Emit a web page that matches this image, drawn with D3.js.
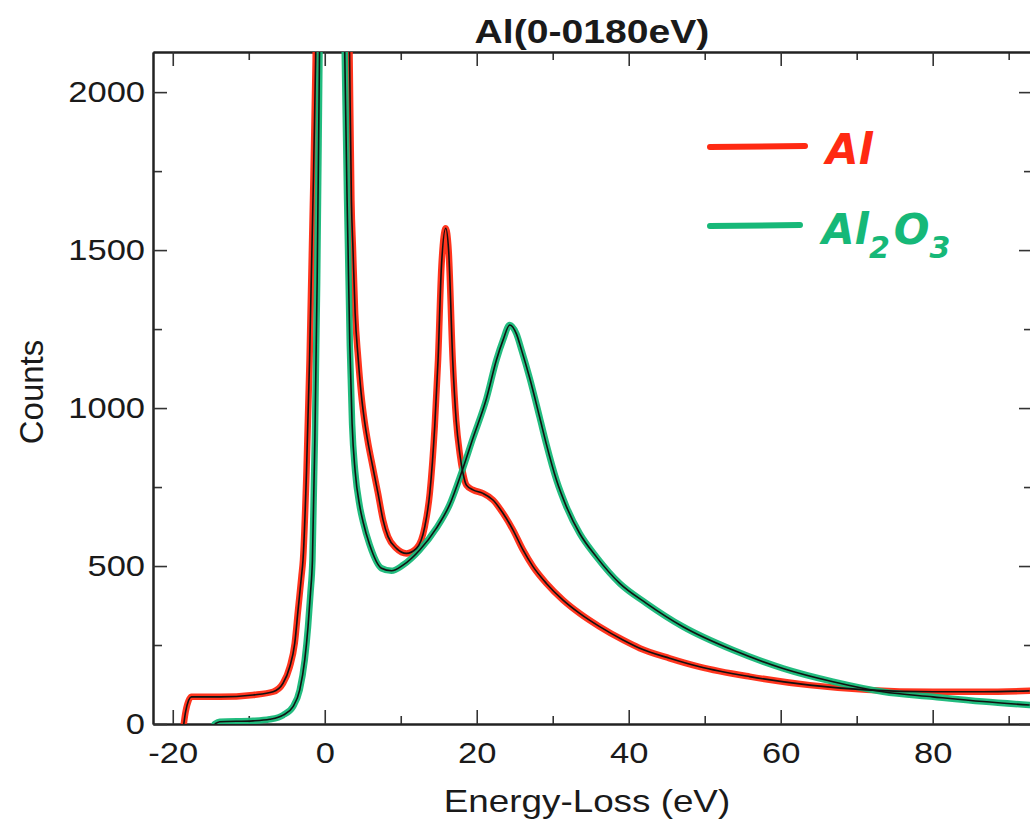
<!DOCTYPE html>
<html>
<head>
<meta charset="utf-8">
<script src="https://cdn.jsdelivr.net/npm/d3@7"></script>
<style>
  html, body { margin: 0; padding: 0; background: #fff; }
  svg { display: block; }
  text { font-family: "Liberation Sans", Arial, Helvetica, sans-serif; fill: #1a1a1a; }
</style>
</head>
<body>
<svg id="chart" width="1030" height="826"></svg>
<script>
// Low-loss EELS spectra (energy loss in eV, counts)
const energyAl = [-18.55, -18.3, -17.54, -13.8, -9.43, -6.8, -5.49, -4.6, -3.95, -3.51, -3.07, -2.86,
  -2.4, -2.0, -1.6, -1.2, -0.8, 0.2, 2.7, 3.25, 3.51, 3.72, 4.0, 4.39, 4.8, 5.26, 5.7, 6.14, 7.01, 7.67, 8.33,
  9.43, 10.75, 12.07, 13.16, 13.82, 14.47, 14.91, 15.36, 15.92, 16.3, 16.84, 17.3, 17.76, 18.2, 18.64,
  19.51, 20.83, 22.14, 23.46, 24.78, 26.09, 27.41, 29.17, 31.36, 33.55, 36.18, 39.25, 41.45, 45.39,
  49.34, 55.92, 63.82, 71.28, 80.04, 86.62, 92.76];
const countsAl = [0, 40, 86, 86, 92, 102, 129, 181, 255, 361, 466, 519,
  800, 1150, 1600, 2100, 3000, 5000, 3000, 2150, 1658, 1500, 1300, 1160, 1045, 955, 890, 835, 730, 646, 593,
  556, 540, 556, 624, 730, 941, 1152, 1450, 1569, 1500, 1152, 960, 857, 793, 756,
  741, 730, 709, 667, 614, 551, 498, 445, 392, 350, 308, 266, 240, 208,
  181, 150, 123, 108, 102, 102, 105];

const energyAl2O3 = [-14.47, -13.82, -9.43, -7.24, -5.49, -4.17, -3.29, -2.63, -2.2, -1.88, -1.62,
  -1.3, -1.0, -0.7, -0.3, 0.6, 2.3, 2.63, 3.07, 3.3, 3.6, 4.0, 4.6, 5.04, 5.9, 7.46, 8.78, 10.3, 12.5,
  14.7, 16.45, 17.99, 19.51, 21.28, 22.59, 23.46, 24.34, 25.22, 25.88, 26.97, 28.29, 29.17, 30.49,
  31.8, 33.55, 35.75, 38.82, 42.33, 47.14, 53.72, 60.3, 66.88, 73.46, 80.04, 86.62, 92.76];
const countsAl2O3 = [0, 7, 10, 15, 28, 55, 108, 203, 308, 414, 519,
  900, 1400, 2100, 3000, 5000, 3000, 2127, 1500, 1200, 950, 800, 690, 640, 568, 493, 485, 503, 551,
  620, 695, 795, 905, 1030, 1152, 1215, 1263, 1235, 1185, 1095, 970, 885, 772,
  688, 603, 529, 445, 382, 308, 234, 176, 134, 102, 86, 71, 60];

const xMajorTicks = [-20, 0, 20, 40, 60, 80];
const xMinorTicks = [-10, 10, 30, 50, 70, 90];
const yMajorTicks = [0, 500, 1000, 1500, 2000];
const yMinorTicks = [250, 750, 1250, 1750];

const seriesNames = ["Al", "Al2O3"];
const seriesColors = ["#ff2a12", "#16b878"];

const svg = d3.select("#chart");
const plotLeft = 153, plotRight = 1033, plotTop = 52, plotBottom = 724;

const x = d3.scaleLinear().domain([-22.6, 93.2]).range([plotLeft, plotRight]);
const y = d3.scaleLinear().domain([0, 2127]).range([plotBottom, plotTop]);

svg.append("defs").append("clipPath").attr("id", "plotArea")
  .append("rect").attr("x", plotLeft).attr("y", plotTop)
  .attr("width", plotRight - plotLeft).attr("height", plotBottom - plotTop);

// Frame axes with inward ticks
function styleAxis(g) {
  g.selectAll("path.domain").attr("stroke", "#222").attr("stroke-width", 2);
  g.selectAll(".tick line").attr("stroke", "#333").attr("stroke-width", 1.6);
}
const plainNumber = d => String(d);

svg.append("g").attr("transform", `translate(0,${plotBottom})`)
  .call(d3.axisBottom(x).tickValues(xMinorTicks).tickSize(-8).tickSizeOuter(0).tickFormat(""))
  .call(styleAxis);
const xAxis = svg.append("g").attr("transform", `translate(0,${plotBottom})`)
  .call(d3.axisBottom(x).tickValues(xMajorTicks).tickSize(-14).tickSizeOuter(0).tickPadding(18)
    .tickFormat(plainNumber))
  .call(styleAxis);
xAxis.selectAll("text").attr("font-size", 30).style("font-family", "Liberation Sans, Arial, sans-serif").attr("fill", "#1a1a1a");

svg.append("g").attr("transform", `translate(0,${plotTop})`)
  .call(d3.axisTop(x).tickValues(xMinorTicks).tickSize(-8).tickSizeOuter(0).tickFormat(""))
  .call(styleAxis);
svg.append("g").attr("transform", `translate(0,${plotTop})`)
  .call(d3.axisTop(x).tickValues(xMajorTicks).tickSize(-14).tickSizeOuter(0).tickFormat(""))
  .call(styleAxis);

svg.append("g").attr("transform", `translate(${plotLeft},0)`)
  .call(d3.axisLeft(y).tickValues(yMinorTicks).tickSize(-9).tickSizeOuter(0).tickFormat(""))
  .call(styleAxis);
const yAxis = svg.append("g").attr("transform", `translate(${plotLeft},0)`)
  .call(d3.axisLeft(y).tickValues(yMajorTicks).tickSize(-14).tickSizeOuter(0).tickPadding(8)
    .tickFormat(plainNumber))
  .call(styleAxis);
yAxis.selectAll("text").attr("font-size", 30).style("font-family", "Liberation Sans, Arial, sans-serif").attr("fill", "#1a1a1a");

svg.append("g").attr("transform", `translate(${plotRight},0)`)
  .call(d3.axisRight(y).tickValues(yMinorTicks).tickSize(-9).tickSizeOuter(0).tickFormat(""))
  .call(styleAxis);
svg.append("g").attr("transform", `translate(${plotRight},0)`)
  .call(d3.axisRight(y).tickValues(yMajorTicks).tickSize(-14).tickSizeOuter(0).tickFormat(""))
  .call(styleAxis);

// Spectra: coloured trace with the thin black data line on top
const line = d3.line().x(d => x(d[0])).y(d => y(d[1])).curve(d3.curveMonotoneX);
const series = [
  d3.zip(energyAl, countsAl),
  d3.zip(energyAl2O3, countsAl2O3)
];
const plot = svg.append("g").attr("clip-path", "url(#plotArea)");
series.forEach((pts, i) => {
  plot.append("path").datum(pts).attr("d", line)
    .attr("fill", "none").attr("stroke", seriesColors[i]).attr("stroke-width", 6.5)
    .attr("stroke-linejoin", "round").attr("stroke-linecap", "round").attr("opacity", 0.95);
});
series.forEach((pts) => {
  plot.append("path").datum(pts).attr("d", line)
    .attr("fill", "none").attr("stroke", "#111").attr("stroke-width", 1.6)
    .attr("stroke-linejoin", "round");
});

// Titles
svg.append("text").attr("class", "stretch").attr("x", 592).attr("y", 43)
  .attr("text-anchor", "middle").attr("font-size", 34).attr("font-weight", "bold")
  .text("Al(0-0180eV)");
svg.append("text").attr("class", "stretch").attr("x", 587).attr("y", 812)
  .attr("text-anchor", "middle").attr("font-size", 32)
  .text("Energy-Loss (eV)");
svg.append("text").attr("transform", "translate(43,392) rotate(-90)")
  .attr("text-anchor", "middle").attr("font-size", 33)
  .text("Counts");

// Legend
const legend = svg.append("g");
const legendY = [147, 226];
legend.selectAll("line").data(seriesNames).join("line")
  .attr("x1", 710).attr("x2", (d, i) => i === 0 ? 805 : 800)
  .attr("y1", (d, i) => legendY[i]).attr("y2", (d, i) => legendY[i] - 1)
  .attr("stroke", (d, i) => seriesColors[i]).attr("stroke-width", 6).attr("stroke-linecap", "round");

legend.append("text").attr("x", 826).attr("y", 164)
  .attr("font-size", 42).attr("font-weight", "bold").attr("font-style", "italic")
  .style("font-family", "DejaVu Sans, sans-serif").style("fill", seriesColors[0]).text("Al");
const lab2 = legend.append("text").attr("x", 822).attr("y", 244)
  .attr("font-size", 42).attr("font-weight", "bold").attr("font-style", "italic")
  .style("font-family", "DejaVu Sans, sans-serif").style("fill", seriesColors[1]);
lab2.append("tspan").text("Al");
lab2.append("tspan").attr("font-size", 30).attr("dy", 14).text("2");
lab2.append("tspan").attr("dy", -14).attr("dx", 4).text("O");
lab2.append("tspan").attr("font-size", 30).attr("dy", 14).text("3");

// Slightly wider letterforms for the printed text
svg.selectAll(".stretch, .tick text").each(function () {
  const w = this.getComputedTextLength();
  if (w > 0) d3.select(this).attr("textLength", w * 1.15).attr("lengthAdjust", "spacingAndGlyphs");
});
</script>
</body>
</html>
